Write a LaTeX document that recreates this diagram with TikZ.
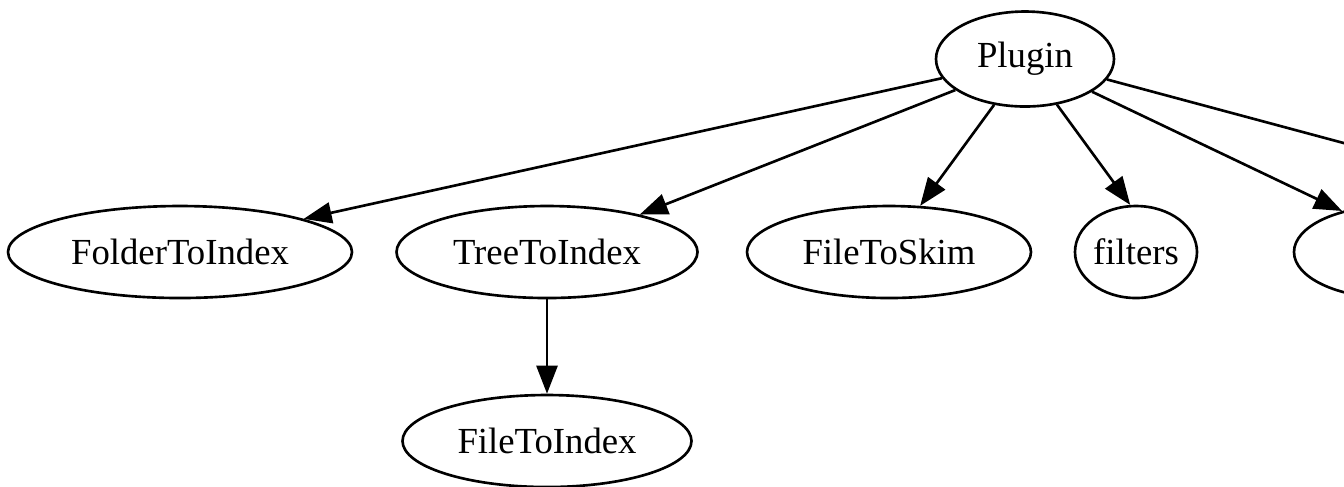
\documentclass[tikz,border=0pt]{standalone}
\usepackage{fontspec}
\setmainfont{Liberation Serif}
\usetikzlibrary{shapes.geometric,arrows.meta}
\begin{document}
\begin{tikzpicture}[x=0.1mm,y=-0.1mm,
  gnode/.style={ellipse,draw,line width=0.75pt,inner sep=0pt,minimum height=9.2mm,font=\fontsize{10.45}{12}\selectfont},
  edge/.style={line width=0.75pt,-{Triangle[length=2.8mm,width=2.1mm]}}]
\useasboundingbox (0,0) rectangle (1344,486);
\clip (0,0) rectangle (1344,486);
\node[gnode,minimum width=17.8mm,minimum height=9.5mm] (plugin) at (1025,59) {Plugin};
\node[gnode,minimum width=34.4mm] (folder) at (180,252) {FolderToIndex};
\node[gnode,minimum width=30.1mm] (tree) at (547,252) {TreeToIndex};
\node[gnode,minimum width=28.4mm] (skim) at (889,252) {FileToSkim};
\node[gnode,minimum width=12.2mm] (filters) at (1136,252) {filters};
\node[gnode,minimum width=19.4mm] (cut) at (1391,252) {};
\node[gnode,minimum width=28.9mm] (fileidx) at (547,441) {FileToIndex};
\coordinate (off) at (1500,185);
\draw[edge] (plugin.-167.4) -- (folder.15);
\draw[edge] (plugin.-156.8) -- (tree.22.7);
\draw[edge] (plugin.-124.8) -- (skim.56);
\draw[edge] (plugin.-55.2) -- (filters.97);
\draw[edge] (plugin.-26.9) -- (cut.140.2);
\draw[line width=0.75pt] (plugin.-14.4) -- (off);
\draw[edge] (tree) -- (fileidx);
\end{tikzpicture}
\end{document}
